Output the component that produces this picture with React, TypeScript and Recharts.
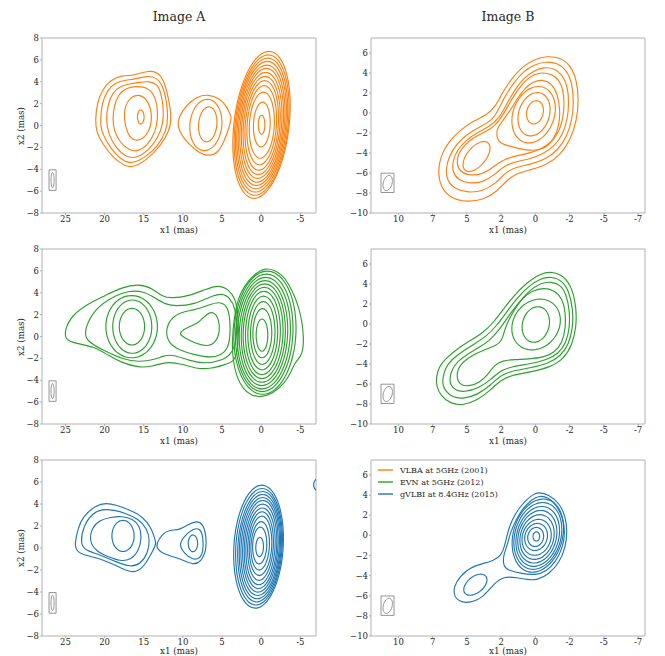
import React from 'react';
import { LineChart, Line, XAxis, YAxis, ReferenceArea } from 'recharts';

type P = [number, number];
type R = [number, number, number, number, number]; // cx, cy, rx, ry, shear
type XY = { x: number; y: number };

const FONT = "'DejaVu Serif', serif";
const FRAME = '#b0b0b0';
const TEXT = '#262626';

// ---------- axes ----------
const xDomainA: [number, number] = [-7, 28];
const yDomainA: [number, number] = [-8, 8];
const xDomainB: [number, number] = [-8, 12];
const yDomainB: [number, number] = [-10, 7.5];
const xTicksA = [25, 20, 15, 10, 5, 0, -5];
const xTicksB = [10, 7.5, 5, 2.5, 0, -2.5, -5, -7.5];
const yTicksA = [-8, -6, -4, -2, 0, 2, 4, 6, 8];
const yTicksB = [-10, -8, -6, -4, -2, 0, 2, 4, 6];
const columnTitles = ['Image A', 'Image B'];
const xLabel = 'x1 (mas)';
const yLabel = 'x2 (mas)';

// ---------- legend ----------
const seriesNames = ['VLBA at 5GHz (2001)', 'EVN at 5GHz (2012)', 'gVLBI at 8.4GHz (2015)'];
const seriesColors = ['#ff7f0e', '#2ca02c', '#1f77b4'];

// ---------- beam ----------
const beamBoxA = [27.1, 26.2, -4.05, -5.93];
const beamEllA: R = [26.65, -4.99, 0.2, 0.7, 0];
const beamBoxB = [11.27, 10.32, -6.02, -7.95];
const beamEllB: R = [10.78, -7.0, 0.33, 0.76, -0.1];

// ---------- Image A, VLBA 2001 ----------
const a1CoreRings: R[] = [
  [-0.05, 0.07, 0.42, 0.87, 0],
  [-0.08, 0.09, 1.07, 2.05, -0.1],
  [-0.08, 0.03, 1.6, 3.03, -0.2],
  [-0.07, 0.03, 1.88, 3.63, -0.3],
  [-0.07, 0.01, 2.12, 4.11, -0.38],
  [-0.06, 0.0, 2.34, 4.5, -0.45],
  [-0.06, 0.01, 2.55, 4.86, -0.52],
  [-0.06, 0.02, 2.74, 5.22, -0.6],
  [-0.05, 0.02, 2.92, 5.52, -0.67],
  [-0.05, 0.04, 3.09, 5.84, -0.74],
  [-0.05, 0.04, 3.25, 6.14, -0.8],
  [-0.05, 0.04, 3.41, 6.44, -0.87],
  [-0.04, 0.06, 3.55, 6.74, -0.95],
];
const a1MidOuter: P[] = [[3.8, 0.65], [3.95, 1.0], [4.4, 1.75], [5.3, 2.47], [6.78, 2.86], [8.26, 2.63], [9.53, 1.87], [10.55, 0.8], [10.72, -0.11], [9.96, -1.17], [8.26, -2.38], [6.78, -2.84], [5.5, -2.53], [4.66, -1.32], [4.05, -0.1], [3.95, 0.35]];
const a1MidRings: R[] = [[7.07, 0.05, 2.05, 2.35, -0.2], [6.83, 0.11, 1.17, 1.6, -0.15]];
const a1Left1: P[] = [[21.19, 0.5], [20.97, 2.02], [20.34, 3.23], [19.28, 4.14], [17.8, 4.6], [16.53, 4.55], [15.68, 4.75], [14.41, 4.99], [13.35, 4.9], [12.5, 4.3], [11.86, 2.63], [11.44, 0.8], [11.65, -0.41], [12.92, -1.93], [14.62, -3.14], [16.31, -3.84], [17.37, -3.75], [18.86, -2.99], [20.34, -1.62], [21.06, -0.56]];
const a1Left2: P[] = [[20.55, 0.5], [20.35, 2.0], [19.7, 3.2], [18.6, 3.95], [17.3, 4.15], [16.0, 4.25], [14.6, 4.55], [13.4, 4.4], [12.6, 3.7], [12.1, 2.3], [11.9, 0.8], [12.1, -0.5], [13.2, -1.9], [14.8, -2.9], [16.3, -3.45], [17.4, -3.35], [18.7, -2.6], [19.9, -1.3], [20.45, -0.4]];
const a1Left3: P[] = [[19.83, 0.5], [19.6, 1.9], [19.0, 3.0], [18.0, 3.6], [16.8, 3.8], [15.5, 3.95], [14.3, 4.05], [13.3, 3.8], [12.8, 3.0], [12.47, 1.6], [12.5, 0.2], [13.2, -1.2], [14.6, -2.4], [16.0, -3.0], [17.3, -2.9], [18.6, -2.0], [19.5, -0.8]];
const a1Left4: P[] = [[18.98, 0.5], [18.8, 1.8], [18.2, 2.9], [17.2, 3.45], [15.9, 3.6], [14.7, 3.5], [13.8, 3.0], [13.3, 2.0], [13.19, 0.7], [13.5, -0.6], [14.5, -1.8], [15.8, -2.4], [17.0, -2.25], [18.2, -1.4], [18.8, -0.4]];
const a1Left5: P[] = [[17.57, 0.7], [17.4, 1.8], [16.7, 2.6], [15.7, 2.85], [14.7, 2.5], [14.1, 1.6], [13.95, 0.5], [14.3, -0.5], [15.1, -1.25], [16.2, -1.45], [17.1, -0.8]];
const a1LeftRings: R[] = [[15.38, 0.78, 0.42, 0.64, 0]];

// ---------- Image A, EVN 2012 ----------
const a2Outer1: P[] = [[25.1, 0.6], [24.17, 1.97], [22.04, 3.04], [19.9, 3.75], [17.8, 4.5], [15.66, 4.8], [13.95, 4.45], [12.68, 3.65], [11.4, 3.49], [9.27, 3.7], [7.14, 4.3], [5.44, 4.72], [4.16, 4.3], [3.31, 3.5], [2.9, 2.0], [2.9, -1.0], [3.4, -2.3], [4.59, -2.55], [6.3, -2.95], [8.42, -2.95], [10.1, -2.5], [12.25, -2.3], [13.95, -2.75], [15.66, -2.85], [17.8, -2.4], [19.5, -1.75], [21.19, -0.95], [23.75, -0.62], [25.02, -0.32]];
const a2Outer2: P[] = [[22.55, 0.75], [21.2, 2.58], [19.06, 3.6], [17.0, 4.2], [15.0, 4.15], [13.5, 3.5], [12.25, 2.95], [10.97, 2.75], [8.42, 2.95], [6.5, 3.65], [5.0, 3.97], [4.0, 3.55], [3.3, 2.6], [3.1, 1.0], [3.2, -0.5], [3.8, -1.6], [5.0, -2.2], [7.14, -2.5], [9.27, -2.2], [11.2, -1.65], [12.5, -1.75], [13.5, -2.1], [15.66, -2.35], [17.8, -2.05], [19.9, -1.35], [22.5, -0.4]];
const a2LeftRings: R[] = [[16.55, 0.9, 3.3, 2.85, 0], [16.47, 0.9, 2.5, 2.44, 0], [16.51, 0.9, 1.62, 1.68, 0]];
const a2Mid2: P[] = [[12.25, 0.45], [11.6, 1.67], [10.1, 2.27], [8.42, 2.43], [6.7, 2.89], [5.44, 3.19], [4.38, 2.89], [3.95, 1.67], [3.95, -0.47], [4.59, -1.53], [6.3, -1.99], [8.42, -1.68], [10.55, -1.23], [11.8, -0.62]];
const a2Mid3: P[] = [[10.34, 0.45], [9.27, 0.9], [8.0, 1.21], [6.93, 2.12], [6.08, 2.27], [5.44, 1.67], [5.23, 0.45], [5.87, -0.62], [6.93, -0.93], [8.42, -0.62], [9.7, -0.16], [10.34, 0.14]];
const a2CoreRings: R[] = [
  [-0.1, 0.125, 0.745, 1.475, 0],
  [-0.145, 0.3, 1.21, 2.25, -0.03],
  [-0.2, 0.325, 1.57, 2.875, -0.06],
  [-0.2, 0.325, 1.91, 3.375, -0.09],
  [-0.22, 0.325, 2.23, 3.825, -0.12],
  [-0.245, 0.325, 2.55, 4.175, -0.15],
  [-0.27, 0.31, 2.82, 4.51, -0.18],
  [-0.29, 0.31, 3.1, 4.81, -0.21],
  [-0.335, 0.31, 3.4, 5.11, -0.24],
  [-0.395, 0.335, 3.67, 5.385, -0.27],
  [-0.48, 0.35, 3.97, 5.65, -0.3],
];
const a2CoreOuter: P[] = [[-0.42, 6.26], [-1.7, 6.1], [-2.76, 5.56], [-3.4, 4.95], [-4.46, 3.43], [-5.1, 1.9], [-5.44, 0.08], [-5.35, -1.3], [-5.0, -1.85], [-4.4, -2.3], [-3.9, -3.1], [-3.0, -4.3], [-1.5, -5.2], [0.01, -5.56], [1.28, -5.4], [2.35, -4.8], [3.2, -3.58], [3.63, -2.05], [3.72, -0.3], [3.45, 1.7], [2.99, 3.43], [2.14, 4.65], [0.86, 5.71]];

// ---------- Image A, gVLBI 2015 ----------
const a3Left1: P[] = [[23.8, 0.42], [23.4, 1.8], [22.8, 2.85], [21.1, 3.9], [19.8, 4.1], [18.5, 3.9], [16.8, 3.45], [15.1, 2.85], [14.0, 1.79], [13.55, 0.75], [13.45, 0.45], [13.6, 0.1], [13.8, -0.18], [14.7, -1.39], [15.7, -2.15], [16.8, -2.2], [18.5, -1.6], [20.6, -0.94], [22.8, -0.64], [23.7, -0.18]];
const a3Left2: P[] = [[23.1, 0.5], [22.7, 2.0], [21.6, 3.15], [20.3, 3.55], [18.8, 3.45], [17.3, 3.15], [15.7, 2.65], [14.6, 1.8], [14.2, 0.7], [14.5, -0.5], [15.4, -1.45], [16.7, -1.75], [18.6, -1.25], [20.8, -0.55], [22.6, -0.2]];
const a3Left3: P[] = [[22.0, 0.6], [21.6, 1.9], [20.6, 2.55], [19.2, 2.8], [17.8, 2.9], [16.4, 2.65], [15.5, 2.0], [15.25, 0.9], [15.65, -0.3], [16.7, -1.1], [18.0, -1.2], [19.5, -0.8], [21.0, -0.35]];
const a3LeftRings: R[] = [[17.65, 1.1, 1.42, 1.42, 0]];
const a3Mid1: P[] = [[13.4, 0.42], [12.55, 1.33], [11.7, 1.64], [10.4, 1.64], [9.4, 2.1], [8.3, 2.48], [7.45, 2.24], [7.0, 1.03], [7.0, -0.18], [7.66, -1.24], [8.7, -1.55], [10.0, -1.09], [11.3, -0.79], [12.55, -0.48], [13.3, -0.1]];
const a3Mid2: P[] = [[10.55, 0.3], [9.8, 1.1], [8.7, 1.75], [7.8, 1.8], [7.4, 1.0], [7.4, -0.4], [7.9, -1.0], [8.8, -1.05], [9.8, -0.5]];
const a3MidRings: R[] = [[8.72, 0.42, 0.6, 0.76, 0]];
const a3CoreRings: R[] = [
  [0.34, 0.125, 3.16, 5.605, -0.42],
  [0.28, 0.11, 2.97, 5.31, -0.4],
  [0.21, 0.115, 2.78, 5.035, -0.38],
  [0.17, 0.125, 2.62, 4.755, -0.35],
  [0.13, 0.135, 2.45, 4.465, -0.32],
  [0.105, 0.155, 2.255, 4.175, -0.3],
  [0.085, 0.15, 2.07, 3.85, -0.27],
  [0.085, 0.15, 1.86, 3.5, -0.24],
  [0.085, 0.175, 1.64, 3.125, -0.2],
  [0.085, 0.2, 1.435, 2.7, -0.17],
  [0.13, 0.2, 1.18, 2.2, -0.13],
  [0.19, 0.225, 0.905, 1.675, -0.08],
  [0.2, 0.09, 0.49, 0.88, -0.03],
];
const a3EdgeBlob: R[] = [[-7.5, 5.75, 0.8, 0.62, 0]];

// ---------- Image B, VLBA 2001 ----------
const b1CoreRings: R[] = [[0.03, 0.07, 0.61, 1.17, -0.1], [0.1, -0.12, 1.15, 2.17, -0.25], [0.13, -0.17, 1.55, 2.83, -0.35]];
const b1Core4: P[] = [[2.85, -1.6], [2.8, -2.6], [2.55, -3.05], [1.6, -3.45], [0.4, -3.8], [-0.6, -3.65], [-1.35, -2.7], [-1.75, -1.2], [-1.8, 0.4], [-1.62, 1.9], [-1.2, 2.95], [-0.55, 3.35], [0.15, 3.15], [0.8, 2.45], [1.35, 1.4], [1.85, 0.2], [2.4, -0.8]];
const b1Peanut1: P[] = [[-0.85, 5.71], [-1.82, 5.54], [-2.55, 4.78], [-3.03, 3.28], [-3.16, 1.29], [-3.03, -0.7], [-2.55, -2.7], [-1.82, -4.19], [-0.85, -5.19], [0.37, -5.69], [1.34, -6.02], [2.07, -6.69], [2.8, -7.85], [3.78, -8.68], [5.0, -8.91], [6.21, -8.52], [6.94, -7.35], [7.11, -5.86], [6.94, -4.36], [6.33, -2.86], [5.48, -1.7], [4.51, -0.77], [3.53, -0.2], [2.93, 0.62], [2.44, 1.95], [1.83, 3.28], [0.98, 4.61], [0.13, 5.34]];
const b1Peanut2: P[] = [[-0.75, 5.15], [-1.6, 5.0], [-2.25, 4.35], [-2.68, 3.0], [-2.8, 1.2], [-2.7, -0.6], [-2.3, -2.4], [-1.6, -3.75], [-0.75, -4.65], [0.4, -5.15], [1.4, -5.4], [2.2, -5.95], [2.85, -7.0], [3.8, -7.8], [4.9, -7.98], [5.9, -7.6], [6.45, -6.75], [6.55, -5.6], [6.3, -4.3], [5.75, -3.1], [5.0, -2.15], [4.1, -1.4], [3.2, -0.8], [2.7, 0.3], [2.2, 1.75], [1.6, 3.0], [0.85, 4.2], [0.05, 4.85]];
const b1Peanut3: P[] = [[-0.65, 4.6], [-1.4, 4.45], [-1.95, 3.85], [-2.35, 2.7], [-2.45, 1.1], [-2.35, -0.6], [-2.0, -2.15], [-1.4, -3.3], [-0.6, -4.05], [0.4, -4.6], [1.4, -4.85], [2.25, -5.25], [2.95, -6.15], [3.85, -6.95], [4.85, -7.05], [5.65, -6.7], [6.05, -5.9], [6.05, -4.8], [5.7, -3.7], [5.1, -2.75], [4.3, -2.0], [3.4, -1.4], [2.65, -0.55], [2.05, 1.0], [1.5, 2.35], [0.85, 3.5], [0.1, 4.25]];
const b1Peanut4: P[] = [[-0.5, 4.05], [-1.2, 3.9], [-1.7, 3.35], [-2.02, 2.4], [-2.12, 1.0], [-2.02, -0.6], [-1.7, -1.95], [-1.15, -2.95], [-0.4, -3.6], [0.5, -4.05], [1.45, -4.3], [2.35, -4.65], [3.05, -5.4], [3.9, -6.15], [4.8, -6.25], [5.5, -5.9], [5.75, -5.1], [5.65, -4.1], [5.15, -3.15], [4.45, -2.4], [3.6, -1.85], [2.95, -1.3], [2.35, -0.2], [1.85, 1.1], [1.3, 2.3], [0.7, 3.3], [0.05, 3.9]];
const b1SecondRings: R[] = [[4.3, -4.35, 0.82, 1.5, -0.55]];

// ---------- Image B, EVN 2012 ----------
const b2CoreRings: R[] = [[-0.03, -0.05, 0.99, 1.78, -0.15], [-0.05, -0.05, 1.75, 2.55, -0.3]];
const b2Kidney: P[] = [[2.44, -1.66], [2.25, -0.6], [1.95, 0.4], [1.5, 1.5], [0.95, 2.6], [0.2, 3.35], [-0.6, 3.62], [-1.35, 3.4], [-1.95, 2.6], [-2.2, 1.2], [-2.2, -0.5], [-1.95, -1.9], [-1.4, -2.85], [-0.6, -3.35], [0.5, -3.5], [1.5, -3.55], [2.4, -3.65], [3.0, -4.1], [3.45, -5.05], [4.1, -5.9], [4.9, -6.25], [5.55, -6.1], [5.8, -5.1], [5.5, -4.0], [4.6, -3.1], [3.6, -2.5], [2.85, -2.15]];
const b2Peanut3: P[] = [[6.26, -5.45], [6.1, -4.55], [5.7, -3.75], [4.95, -3.0], [4.1, -2.35], [3.3, -1.6], [2.65, -0.6], [1.98, 0.75], [1.3, 2.0], [0.5, 3.3], [-0.4, 4.1], [-1.15, 4.25], [-1.85, 3.9], [-2.25, 3.0], [-2.5, 1.35], [-2.5, -0.4], [-2.25, -1.85], [-1.7, -2.95], [-0.85, -3.6], [0.45, -4.0], [1.7, -4.25], [2.55, -4.65], [3.2, -5.5], [4.15, -6.45], [5.2, -6.81], [5.85, -6.65], [6.2, -6.1]];
const b2Peanut2: P[] = [[6.75, -5.4], [6.6, -4.45], [6.15, -3.6], [5.35, -2.75], [4.45, -2.0], [3.55, -1.2], [2.85, -0.2], [2.15, 1.1], [1.45, 2.4], [0.55, 3.75], [-0.4, 4.58], [-1.2, 4.75], [-1.95, 4.35], [-2.45, 3.3], [-2.74, 1.5], [-2.74, -0.35], [-2.45, -2.0], [-1.85, -3.2], [-0.95, -3.95], [0.4, -4.4], [1.75, -4.7], [2.55, -5.15], [3.25, -6.1], [4.2, -7.05], [5.2, -7.48], [6.05, -7.35], [6.6, -6.65], [6.78, -6.0]];
const b2Peanut1: P[] = [[7.23, -5.32], [7.06, -4.32], [6.58, -3.49], [5.72, -2.49], [4.75, -1.66], [3.78, -0.83], [3.05, 0.17], [2.32, 1.5], [1.59, 2.82], [0.62, 4.15], [-0.36, 5.05], [-1.21, 5.25], [-2.06, 4.82], [-2.67, 3.65], [-2.99, 1.66], [-2.99, -0.33], [-2.67, -2.16], [-2.06, -3.49], [-1.09, -4.32], [0.37, -4.82], [1.83, -5.15], [2.56, -5.65], [3.29, -6.64], [4.26, -7.64], [5.24, -8.14], [6.21, -7.97], [6.94, -7.14], [7.23, -6.15]];

// ---------- Image B, gVLBI 2015 ----------
const b3CoreRings: R[] = [
  [-0.07, -0.1, 0.245, 0.46, 0],
  [-0.02, -0.15, 0.58, 0.95, -0.05],
  [-0.05, -0.15, 0.83, 1.35, -0.1],
  [-0.09, -0.19, 1.06, 1.79, -0.15],
  [-0.12, -0.16, 1.24, 2.23, -0.2],
  [-0.14, -0.13, 1.41, 2.62, -0.25],
  [-0.17, -0.1, 1.57, 2.98, -0.3],
  [-0.18, -0.05, 1.72, 3.33, -0.35],
  [-0.18, -0.02, 1.84, 3.65, -0.4],
];
const b3Core10: P[] = [[1.83, 0.3], [2.05, -1.0], [2.35, -2.0], [2.35, -3.1], [1.9, -3.5], [1.0, -3.8], [0.0, -3.95], [-0.8, -3.6], [-1.5, -2.6], [-2.0, -1.2], [-2.18, 0.4], [-2.0, 1.8], [-1.5, 3.1], [-0.9, 3.8], [-0.3, 3.97], [0.3, 3.55], [0.9, 2.7], [1.4, 1.6]];
const b3Peanut: P[] = [[-0.24, 4.3], [-1.0, 4.05], [-1.75, 3.2], [-2.2, 1.9], [-2.33, 0.4], [-2.2, -1.2], [-1.75, -2.7], [-1.0, -3.85], [-0.12, -4.45], [0.6, -4.4], [1.34, -4.2], [2.32, -4.05], [3.05, -4.82], [3.78, -6.13], [4.75, -6.72], [5.6, -6.62], [6.02, -5.8], [5.85, -4.66], [5.0, -3.34], [4.02, -2.85], [3.05, -2.52], [2.5, -2.0], [2.25, -1.1], [2.05, 0.2], [1.7, 1.6], [1.2, 2.7], [0.7, 3.5], [0.15, 4.1]];
const b3SecondRings: R[] = [[4.38, -4.9, 0.75, 1.05, -0.4]];

// ---------- builders ----------
const ring = (r: R, n = 48): XY[] => {
  const [cx, cy, rx, ry, a] = r;
  const out: XY[] = [];
  for (let i = 0; i < n; i++) {
    const t = (2 * Math.PI * i) / n;
    out.push({ x: cx + a * Math.sin(t) + rx * Math.cos(t), y: cy + ry * Math.sin(t) });
  }
  return out;
};
const poly = (p: P[]): XY[] => p.map(([x, y]) => ({ x, y }));

const panelShapes: XY[][][] = [
  [...a1CoreRings.map((r) => ring(r)), poly(a1MidOuter), ...a1MidRings.map((r) => ring(r)), poly(a1Left1), poly(a1Left2), poly(a1Left3), poly(a1Left4), poly(a1Left5), ...a1LeftRings.map((r) => ring(r))],
  [...b1CoreRings.map((r) => ring(r)), poly(b1Core4), poly(b1Peanut1), poly(b1Peanut2), poly(b1Peanut3), poly(b1Peanut4), ...b1SecondRings.map((r) => ring(r))],
  [poly(a2Outer1), poly(a2Outer2), ...a2LeftRings.map((r) => ring(r)), poly(a2Mid2), poly(a2Mid3), ...a2CoreRings.map((r) => ring(r)), poly(a2CoreOuter)],
  [...b2CoreRings.map((r) => ring(r)), poly(b2Kidney), poly(b2Peanut3), poly(b2Peanut2), poly(b2Peanut1)],
  [poly(a3Left1), poly(a3Left2), poly(a3Left3), ...a3LeftRings.map((r) => ring(r)), poly(a3Mid1), poly(a3Mid2), ...a3MidRings.map((r) => ring(r)), ...a3CoreRings.map((r) => ring(r)), ...a3EdgeBlob.map((r) => ring(r))],
  [...b3CoreRings.map((r) => ring(r)), poly(b3Core10), poly(b3Peanut), ...b3SecondRings.map((r) => ring(r))],
];

// ---------- layout ----------
const PLOT_W = 274;
const COL_X = [42, 371];
const ROWS = [
  { top: 38, h: 175, lab: 16.5 },
  { top: 249, h: 175, lab: 16.5 },
  { top: 460, h: 176, lab: 15.3 },
];
const ML = 40, MT = 4, MR = 6, XH = 24;

const yFmt = (v: number) => (v < 0 ? '\u2212' + Math.abs(v) : String(v));
const xFmtA = (v: number) => String(v);
const xFmtB = (v: number) => String(Math.trunc(v) === 0 ? 0 : Math.trunc(v));

function Panel({ col, row, color, shapes }: { col: number; row: number; color: string; shapes: XY[][] }) {
  const isA = col === 0;
  const left = COL_X[col];
  const { top, h } = ROWS[row];
  const xDomain = isA ? xDomainA : xDomainB;
  const yDomain = isA ? yDomainA : yDomainB;
  const box = isA ? beamBoxA : beamBoxB;
  const beam = ring(isA ? beamEllA : beamEllB, 36);
  const tickStyle = { fill: TEXT, fontSize: 8.5, fontFamily: FONT };
  return (
    <div style={{ position: 'absolute', left: left - ML, top: top - MT }}>
      <LineChart width={ML + PLOT_W + MR} height={MT + h + XH} margin={{ top: MT, right: MR, left: 0, bottom: 0 }}>
        <XAxis
          type="number"
          dataKey="x"
          domain={xDomain}
          reversed
          ticks={isA ? xTicksA : xTicksB}
          interval={0}
          allowDataOverflow
          tickFormatter={isA ? xFmtA : xFmtB}
          tickSize={2}
          tickMargin={1}
          height={XH}
          axisLine={false}
          tickLine={{ stroke: FRAME }}
          tick={tickStyle}
        />
        <YAxis
          type="number"
          dataKey="y"
          domain={yDomain}
          ticks={isA ? yTicksA : yTicksB}
          interval={0}
          allowDataOverflow
          tickFormatter={yFmt}
          width={ML}
          tickSize={2}
          tickMargin={1}
          axisLine={false}
          tickLine={{ stroke: FRAME }}
          tick={tickStyle}
        />
        <ReferenceArea x1={xDomain[0]} x2={xDomain[1]} y1={yDomain[0]} y2={yDomain[1]} fill="none" stroke={FRAME} strokeWidth={1} ifOverflow="visible" />
        <ReferenceArea x1={box[0]} x2={box[1]} y1={box[2]} y2={box[3]} fill="none" stroke="#7a7a7a" strokeWidth={0.8} />
        <Line data={beam} dataKey="y" type="basisClosed" stroke="#7a7a7a" strokeWidth={0.8} dot={false} activeDot={false} isAnimationActive={false} legendType="none" />
        {shapes.map((s, i) => (
          <Line key={i} data={s} dataKey="y" type="basisClosed" stroke={color} strokeWidth={1.15} dot={false} activeDot={false} isAnimationActive={false} legendType="none" />
        ))}
      </LineChart>
    </div>
  );
}

const textBase: React.CSSProperties = { position: 'absolute', fontFamily: FONT, color: TEXT, whiteSpace: 'nowrap', lineHeight: 1 };

export default function App() {
  return (
    <div style={{ position: 'absolute', left: 0, top: 0, width: 665, height: 656, background: '#fff', overflow: 'hidden' }}>
      {columnTitles.map((t, c) => (
        <div key={t} style={{ ...textBase, left: COL_X[c] + PLOT_W / 2, top: 17, fontSize: 12.5, transform: 'translate(-50%, -50%)' }}>{t}</div>
      ))}
      {ROWS.map((r, ri) =>
        [0, 1].map((c) => (
          <Panel key={`${ri}-${c}`} col={c} row={ri} color={seriesColors[ri]} shapes={panelShapes[ri * 2 + c]} />
        ))
      )}
      {ROWS.map((r, ri) =>
        [0, 1].map((c) => (
          <div key={`xl-${ri}-${c}`} style={{ ...textBase, left: COL_X[c] + PLOT_W / 2, top: r.top + r.h + r.lab, fontSize: 8.7, transform: 'translate(-50%, -50%)' }}>{xLabel}</div>
        ))
      )}
      {ROWS.map((r, ri) => (
        <div key={`yl-${ri}`} style={{ ...textBase, left: 20.7, top: r.top + r.h / 2, fontSize: 8.7, transform: 'translate(-50%, -50%) rotate(-90deg)' }}>{yLabel}</div>
      ))}
      <div style={{ position: 'absolute', left: 378, top: 464 }}>
        {seriesNames.map((n, i) => (
          <div key={n} style={{ display: 'flex', alignItems: 'center', height: 12, fontFamily: FONT, fontSize: 8, color: TEXT, whiteSpace: 'nowrap' }}>
            <div style={{ width: 15, height: 2, background: seriesColors[i], opacity: 0.7, marginRight: 7 }} />
            <span>{n}</span>
          </div>
        ))}
      </div>
    </div>
  );
}
